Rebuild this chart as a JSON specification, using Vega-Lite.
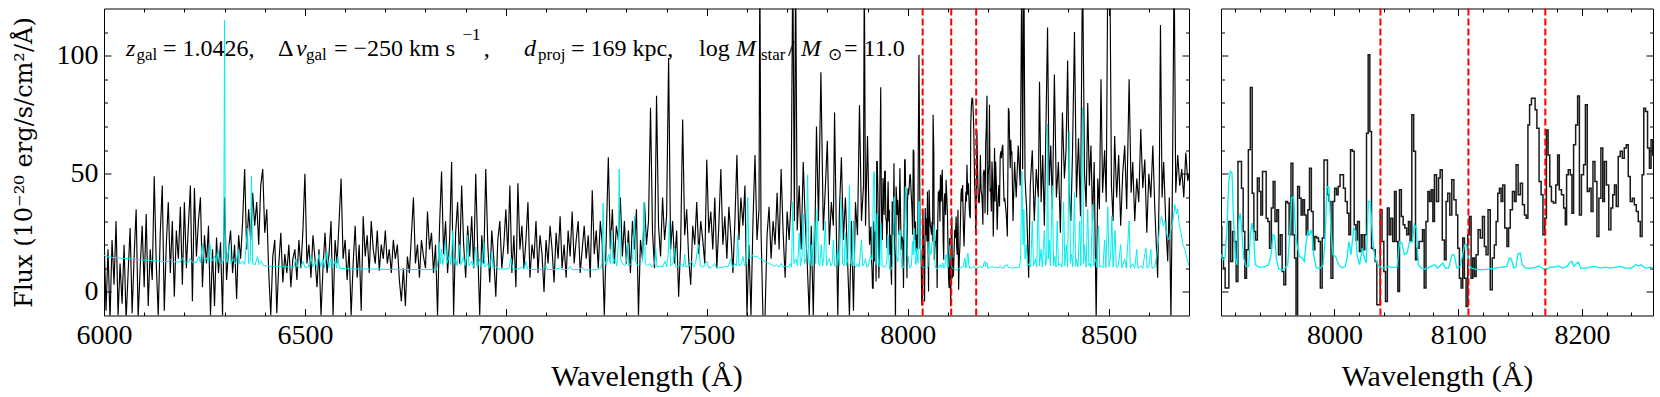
{
"$schema": "https://vega.github.io/schema/vega-lite/v6.json",
"background": "white",
"padding": {"left": 11, "top": 6.5, "right": 6, "bottom": 5},
"config": {
  "view": {"stroke": "black", "strokeWidth": 1},
  "font": "Liberation Serif",
  "axis": {"labelFont": "Liberation Serif", "titleFont": "Liberation Serif", "labelFontSize": 28, "titleFontSize": 30, "titleFontWeight": "normal", "labelColor": "black", "titleColor": "black", "tickColor": "black", "tickWidth": 1, "domain": false, "grid": false, "labelOverlap": false, "labelFlush": false, "minExtent": 0}
},
"datasets": {
"flux": [
{"w":6000,"f":25},{"w":6005,"f":-8},{"w":6010,"f":18},{"w":6015,"f":-12},{"w":6020,"f":22},{"w":6025,"f":3},{"w":6030,"f":30},{"w":6035,"f":-10},{"w":6040,"f":12},{"w":6045,"f":-5},
{"w":6050,"f":20},{"w":6055,"f":-12},{"w":6060,"f":8},{"w":6065,"f":27},{"w":6070,"f":-9},{"w":6075,"f":15},{"w":6080,"f":35},{"w":6085,"f":-11},{"w":6090,"f":10},{"w":6095,"f":28},
{"w":6100,"f":2},{"w":6105,"f":33},{"w":6110,"f":-6},{"w":6115,"f":18},{"w":6120,"f":5},{"w":6125,"f":49},{"w":6130,"f":12},{"w":6135,"f":-10},{"w":6140,"f":25},{"w":6145,"f":45},
{"w":6150,"f":-8},{"w":6155,"f":20},{"w":6160,"f":38},{"w":6165,"f":8},{"w":6170,"f":30},{"w":6175,"f":-2},{"w":6180,"f":26},{"w":6185,"f":14},{"w":6190,"f":36},{"w":6195,"f":3},
{"w":6200,"f":38},{"w":6205,"f":10},{"w":6210,"f":28},{"w":6215,"f":45},{"w":6220,"f":-4},{"w":6225,"f":44},{"w":6230,"f":15},{"w":6235,"f":30},{"w":6240,"f":40},{"w":6245,"f":2},
{"w":6250,"f":24},{"w":6255,"f":12},{"w":6260,"f":28},{"w":6265,"f":-10},{"w":6270,"f":18},{"w":6275,"f":-6},{"w":6280,"f":23},{"w":6285,"f":8},{"w":6290,"f":21},{"w":6295,"f":-10},
{"w":6300,"f":40},{"w":6305,"f":5},{"w":6310,"f":18},{"w":6315,"f":26},{"w":6320,"f":8},{"w":6325,"f":20},{"w":6330,"f":-3},{"w":6335,"f":24},{"w":6340,"f":14},{"w":6345,"f":30},
{"w":6350,"f":52},{"w":6355,"f":18},{"w":6360,"f":35},{"w":6365,"f":22},{"w":6370,"f":42},{"w":6375,"f":28},{"w":6380,"f":38},{"w":6385,"f":20},{"w":6390,"f":45},{"w":6395,"f":52},
{"w":6400,"f":25},{"w":6405,"f":35},{"w":6410,"f":8},{"w":6415,"f":-10},{"w":6420,"f":15},{"w":6425,"f":22},{"w":6430,"f":-9},{"w":6435,"f":12},{"w":6440,"f":25},{"w":6445,"f":4},
{"w":6450,"f":16},{"w":6455,"f":8},{"w":6460,"f":20},{"w":6465,"f":2},{"w":6470,"f":14},{"w":6475,"f":18},{"w":6480,"f":5},{"w":6485,"f":22},{"w":6490,"f":10},{"w":6495,"f":26},
{"w":6500,"f":50},{"w":6505,"f":12},{"w":6510,"f":20},{"w":6515,"f":6},{"w":6520,"f":24},{"w":6525,"f":14},{"w":6530,"f":2},{"w":6535,"f":18},{"w":6540,"f":-10},{"w":6545,"f":10},
{"w":6550,"f":25},{"w":6555,"f":8},{"w":6560,"f":16},{"w":6565,"f":30},{"w":6570,"f":-10},{"w":6575,"f":22},{"w":6580,"f":12},{"w":6585,"f":30},{"w":6590,"f":48},{"w":6595,"f":14},
{"w":6600,"f":22},{"w":6605,"f":5},{"w":6610,"f":18},{"w":6615,"f":-10},{"w":6620,"f":12},{"w":6625,"f":28},{"w":6630,"f":6},{"w":6635,"f":20},{"w":6640,"f":-8},{"w":6645,"f":32},
{"w":6650,"f":15},{"w":6655,"f":24},{"w":6660,"f":8},{"w":6665,"f":30},{"w":6670,"f":18},{"w":6675,"f":12},{"w":6680,"f":26},{"w":6685,"f":9},{"w":6690,"f":20},{"w":6695,"f":14},
{"w":6700,"f":26},{"w":6705,"f":12},{"w":6710,"f":18},{"w":6715,"f":8},{"w":6720,"f":22},{"w":6725,"f":14},{"w":6730,"f":20},{"w":6735,"f":5},{"w":6740,"f":-4},{"w":6745,"f":10},
{"w":6750,"f":-6},{"w":6755,"f":15},{"w":6760,"f":8},{"w":6765,"f":24},{"w":6770,"f":40},{"w":6775,"f":12},{"w":6780,"f":20},{"w":6785,"f":6},{"w":6790,"f":22},{"w":6795,"f":15},
{"w":6800,"f":10},{"w":6805,"f":34},{"w":6810,"f":18},{"w":6815,"f":25},{"w":6820,"f":8},{"w":6825,"f":20},{"w":6830,"f":-10},{"w":6835,"f":28},{"w":6840,"f":51},{"w":6845,"f":16},
{"w":6850,"f":30},{"w":6855,"f":8},{"w":6860,"f":22},{"w":6865,"f":55},{"w":6870,"f":-10},{"w":6875,"f":25},{"w":6880,"f":38},{"w":6885,"f":12},{"w":6890,"f":45},{"w":6895,"f":20},
{"w":6900,"f":6},{"w":6905,"f":28},{"w":6910,"f":15},{"w":6915,"f":32},{"w":6920,"f":10},{"w":6925,"f":50},{"w":6930,"f":18},{"w":6935,"f":-10},{"w":6940,"f":24},{"w":6945,"f":12},
{"w":6950,"f":52},{"w":6955,"f":20},{"w":6960,"f":4},{"w":6965,"f":26},{"w":6970,"f":14},{"w":6975,"f":-2},{"w":6980,"f":22},{"w":6985,"f":30},{"w":6990,"f":10},{"w":6995,"f":20},
{"w":7000,"f":35},{"w":7005,"f":16},{"w":7010,"f":45},{"w":7015,"f":8},{"w":7020,"f":24},{"w":7025,"f":2},{"w":7030,"f":46},{"w":7035,"f":18},{"w":7040,"f":28},{"w":7045,"f":10},
{"w":7050,"f":22},{"w":7055,"f":38},{"w":7060,"f":6},{"w":7065,"f":20},{"w":7070,"f":14},{"w":7075,"f":30},{"w":7080,"f":8},{"w":7085,"f":24},{"w":7090,"f":16},{"w":7095,"f":0},
{"w":7100,"f":22},{"w":7105,"f":12},{"w":7110,"f":28},{"w":7115,"f":18},{"w":7120,"f":4},{"w":7125,"f":25},{"w":7130,"f":14},{"w":7135,"f":32},{"w":7140,"f":10},{"w":7145,"f":20},
{"w":7150,"f":6},{"w":7155,"f":26},{"w":7160,"f":15},{"w":7165,"f":34},{"w":7170,"f":12},{"w":7175,"f":22},{"w":7180,"f":30},{"w":7185,"f":8},{"w":7190,"f":18},{"w":7195,"f":28},
{"w":7200,"f":14},{"w":7205,"f":24},{"w":7210,"f":6},{"w":7215,"f":43},{"w":7220,"f":16},{"w":7225,"f":26},{"w":7230,"f":10},{"w":7235,"f":30},{"w":7240,"f":20},{"w":7245,"f":-10},
{"w":7250,"f":24},{"w":7255,"f":57},{"w":7260,"f":18},{"w":7265,"f":35},{"w":7270,"f":12},{"w":7275,"f":28},{"w":7280,"f":22},{"w":7285,"f":40},{"w":7290,"f":15},{"w":7295,"f":30},
{"w":7300,"f":12},{"w":7305,"f":26},{"w":7310,"f":8},{"w":7315,"f":30},{"w":7320,"f":18},{"w":7325,"f":35},{"w":7330,"f":-10},{"w":7335,"f":22},{"w":7340,"f":14},{"w":7345,"f":38},
{"w":7350,"f":20},{"w":7355,"f":30},{"w":7360,"f":78},{"w":7365,"f":25},{"w":7370,"f":10},{"w":7375,"f":83},{"w":7380,"f":28},{"w":7385,"f":15},{"w":7390,"f":40},{"w":7395,"f":22},
{"w":7400,"f":32},{"w":7405,"f":99},{"w":7410,"f":18},{"w":7415,"f":30},{"w":7420,"f":12},{"w":7425,"f":26},{"w":7430,"f":-2},{"w":7435,"f":20},{"w":7440,"f":73},{"w":7445,"f":24},
{"w":7450,"f":35},{"w":7455,"f":14},{"w":7460,"f":3},{"w":7465,"f":28},{"w":7470,"f":20},{"w":7475,"f":38},{"w":7480,"f":16},{"w":7485,"f":30},{"w":7490,"f":22},{"w":7495,"f":12},
{"w":7500,"f":56},{"w":7505,"f":25},{"w":7510,"f":34},{"w":7515,"f":18},{"w":7520,"f":40},{"w":7525,"f":10},{"w":7530,"f":28},{"w":7535,"f":52},{"w":7540,"f":20},{"w":7545,"f":32},
{"w":7550,"f":14},{"w":7555,"f":36},{"w":7560,"f":24},{"w":7565,"f":8},{"w":7570,"f":30},{"w":7575,"f":58},{"w":7580,"f":22},{"w":7585,"f":40},{"w":7590,"f":28},{"w":7595,"f":45},
{"w":7600,"f":-10},{"w":7605,"f":20},{"w":7610,"f":-10},{"w":7615,"f":30},{"w":7620,"f":58},{"w":7625,"f":22},{"w":7630,"f":35},{"w":7632,"f":140},{"w":7635,"f":26},{"w":7640,"f":-12},
{"w":7645,"f":-10},{"w":7650,"f":24},{"w":7655,"f":36},{"w":7660,"f":14},{"w":7665,"f":30},{"w":7670,"f":20},{"w":7675,"f":42},{"w":7680,"f":18},{"w":7685,"f":52},{"w":7690,"f":25},
{"w":7695,"f":6},{"w":7700,"f":34},{"w":7705,"f":22},{"w":7710,"f":40},{"w":7714,"f":140},{"w":7718,"f":30},{"w":7721,"f":140},{"w":7725,"f":26},{"w":7730,"f":45},{"w":7735,"f":18},
{"w":7740,"f":55},{"w":7745,"f":30},{"w":7750,"f":12},{"w":7755,"f":-10},{"w":7760,"f":28},{"w":7765,"f":-10},{"w":7770,"f":35},{"w":7773,"f":70},{"w":7778,"f":30},{"w":7784,"f":93},
{"w":7790,"f":26},{"w":7795,"f":44},{"w":7800,"f":64},{"w":7805,"f":20},{"w":7810,"f":38},{"w":7815,"f":28},{"w":7818,"f":76},{"w":7822,"f":30},{"w":7826,"f":-10},{"w":7830,"f":34},
{"w":7835,"f":57},{"w":7840,"f":22},{"w":7845,"f":40},{"w":7850,"f":15},{"w":7855,"f":-10},{"w":7860,"f":30},{"w":7865,"f":-8},{"w":7870,"f":38},{"w":7875,"f":24},{"w":7880,"f":79},
{"w":7885,"f":30},{"w":7890,"f":45},{"w":7892,"f":140},{"w":7895,"f":28},{"w":7900,"f":66},{"w":7905,"f":20},
{"w":7908.4,"f":27.7},{"w":7909.7,"f":14.3},{"w":7911.1,"f":10.1},{"w":7912.4,"f":1.6},{"w":7914.1,"f":1.6},{"w":7915.4,"f":29.8},{"w":7917.0,"f":12.9},{"w":7918.6,"f":25.6},{"w":7920.0,"f":21.3},{"w":7921.3,"f":4.4},
{"w":7922.9,"f":55.2},{"w":7924.3,"f":55.2},{"w":7925.6,"f":43.9},{"w":7927.0,"f":25.6},{"w":7928.3,"f":5.8},{"w":7929.7,"f":17.8},{"w":7931.3,"f":60.2},{"w":7932.9,"f":86.6},{"w":7934.3,"f":41.8},{"w":7935.6,"f":25.6},
{"w":7937.0,"f":22.0},{"w":7938.6,"f":48.2},{"w":7939.9,"f":42.5},{"w":7941.3,"f":32.6},{"w":7942.6,"f":51.0},{"w":7944.2,"f":51.0},{"w":7945.6,"f":31.2},{"w":7946.9,"f":29.8},{"w":7948.3,"f":18.5},{"w":7949.9,"f":35.5},
{"w":7951.2,"f":46.7},{"w":7952.8,"f":29.8},{"w":7954.2,"f":34.8},{"w":7955.5,"f":15.7},{"w":7957.1,"f":24.2},{"w":7958.5,"f":8.6},{"w":7959.8,"f":3.0},{"w":7961.5,"f":38.3},{"w":7962.8,"f":37.6},{"w":7964.1,"f":24.2},
{"w":7965.8,"f":54.5},{"w":7967.1,"f":24.2},{"w":7968.5,"f":14.3},{"w":7969.5,"f":-14},{"w":7971.1,"f":44.6},{"w":7972.5,"f":39.7},{"w":7973.8,"f":32.6},{"w":7975.2,"f":39.0},{"w":7976.5,"f":32.6},{"w":7977.9,"f":24.2},
{"w":7979.2,"f":34.8},{"w":7980.6,"f":52.4},{"w":7982.2,"f":34.0},{"w":7983.5,"f":17.8},{"w":7984.9,"f":23.5},{"w":7986.5,"f":22.8},{"w":7987.8,"f":21.3},{"w":7989.5,"f":1.6},{"w":7990.8,"f":22.8},{"w":7992.4,"f":55.9},
{"w":7993.7,"f":55.9},{"w":7995.1,"f":41.1},{"w":7996.4,"f":38.3},{"w":7998.1,"f":5.8},{"w":7999.4,"f":38.3},{"w":8001.0,"f":43.9},{"w":8002.4,"f":41.1},{"w":8003.7,"f":44.6},{"w":8005.4,"f":49.6},{"w":8006.7,"f":49.6},
{"w":8008.0,"f":43.9},{"w":8009.7,"f":38.3},{"w":8011.0,"f":33.3},{"w":8012.4,"f":24.2},{"w":8013.7,"f":60.2},{"w":8015.3,"f":59.5},{"w":8016.7,"f":28.4},{"w":8018.0,"f":22.0},{"w":8019.4,"f":29.8},{"w":8021.0,"f":17.1},
{"w":8022.3,"f":24.2},{"w":8023.7,"f":17.8},{"w":8025.3,"f":24.2},{"w":8026.6,"f":67.2},{"w":8028.0,"f":100.4},{"w":8029.3,"f":67.9},{"w":8030.7,"f":18.5},{"w":8032.3,"f":17.8},{"w":8033.6,"f":12.9},{"w":8035.0,"f":-5.5},
{"w":8036.3,"f":-5.5},{"w":8037.7,"f":34.8},{"w":8039.3,"f":21.3},{"w":8040.6,"f":8.6},{"w":8042.0,"f":-4.1},{"w":8043.6,"f":35.5},{"w":8044.9,"f":24.2},{"w":8046.3,"f":31.2},{"w":8047.9,"f":21.3},{"w":8049.2,"f":42.5},
{"w":8050.6,"f":21.3},{"w":8051.9,"f":0.2},{"w":8053.3,"f":43.2},{"w":8054.9,"f":31.9},{"w":8056.2,"f":28.4},{"w":8057.6,"f":27.0},{"w":8059.2,"f":24.2},{"w":8060.5,"f":29.8},{"w":8061.9,"f":21.3},{"w":8063.2,"f":75.0},
{"w":8064.9,"f":59.5},{"w":8066.2,"f":13.6},{"w":8067.6,"f":18.5},{"w":8069.2,"f":21.3},{"w":8070.5,"f":21.3},{"w":8071.9,"f":26.3},{"w":8073.2,"f":1.6},{"w":8074.8,"f":29.8},{"w":8076.2,"f":42.5},{"w":8077.5,"f":38.3},
{"w":8078.9,"f":43.2},{"w":8080.2,"f":29.8},{"w":8081.5,"f":49.6},{"w":8083.5,"f":38.3},{"w":8084.8,"f":48.2},{"w":8086.1,"f":51.7},{"w":8088.2,"f":22.0},{"w":8089.6,"f":13.6},{"w":8090.9,"f":38.3},{"w":8092.3,"f":41.8},
{"w":8094.2,"f":32.6},{"w":8095.5,"f":47.5},{"w":8097.6,"f":39.0},{"w":8099.0,"f":32.6},{"w":8100.3,"f":18.5},{"w":8101.7,"f":5.8},{"w":8103.0,"f":1.6},{"w":8104.4,"f":22.8},{"w":8105.7,"f":5.8},{"w":8107.1,"f":-6.2},
{"w":8108.4,"f":24.2},{"w":8109.8,"f":31.9},{"w":8111.1,"f":5.8},{"w":8112.5,"f":14.3},{"w":8113.8,"f":6.5},{"w":8115.2,"f":15.7},{"w":8117.0,"f":26.3},{"w":8118.7,"f":22.8},{"w":8120.5,"f":31.9},{"w":8121.9,"f":19.2},
{"w":8123.2,"f":15.7},{"w":8125.1,"f":34.8},{"w":8126.7,"f":0.9},{"w":8128.4,"f":14.3},{"w":8130.0,"f":19.9},{"w":8131.3,"f":29.8},{"w":8132.7,"f":41.8},{"w":8134.0,"f":43.9},{"w":8135.4,"f":38.3},{"w":8136.7,"f":45.3},
{"w":8138.6,"f":27.0},{"w":8140.2,"f":19.2},{"w":8141.3,"f":27.0},{"w":8142.9,"f":34.8},{"w":8144.8,"f":42.5},{"w":8146.1,"f":38.3},{"w":8147.5,"f":53.8},{"w":8149.4,"f":41.1},{"w":8151.0,"f":46.0},{"w":8152.9,"f":36.9},
{"w":8154.2,"f":32.6},{"w":8155.8,"f":31.2},{"w":8156.9,"f":70.7},{"w":8158.5,"f":79.2},{"w":8159.9,"f":82.0},{"w":8161.5,"f":82.0},{"w":8162.8,"f":77.1},{"w":8164.4,"f":69.3},{"w":8166.3,"f":46.7},{"w":8167.7,"f":41.1},
{"w":8169.3,"f":24.2},{"w":8170.6,"f":31.2},{"w":8172.0,"f":68.6},{"w":8173.3,"f":58.0},{"w":8174.7,"f":44.6},{"w":8176.0,"f":38.3},{"w":8177.9,"f":37.6},{"w":8179.8,"f":45.3},{"w":8180.9,"f":58.0},{"w":8182.5,"f":43.2},
{"w":8184.4,"f":41.1},{"w":8186.0,"f":35.5},{"w":8187.1,"f":28.4},{"w":8188.1,"f":49.6},{"w":8189.8,"f":51.7},{"w":8191.4,"f":49.6},{"w":8192.4,"f":33.3},{"w":8194.1,"f":62.3},{"w":8195.7,"f":70.7},{"w":8197.3,"f":83.0},
{"w":8198.6,"f":32.6},{"w":8200.5,"f":49.6},{"w":8202.1,"f":53.8},{"w":8203.5,"f":79.2},{"w":8205.1,"f":42.5},{"w":8206.7,"f":43.9},{"w":8208.1,"f":34.0},{"w":8209.7,"f":55.2},{"w":8211.3,"f":46.7},{"w":8212.9,"f":23.5},
{"w":8214.5,"f":39.7},{"w":8216.1,"f":60.9},{"w":8217.5,"f":38.3},{"w":8218.8,"f":55.2},{"w":8220.7,"f":45.3},{"w":8222.6,"f":26.3},{"w":8224.2,"f":35.5},{"w":8225.6,"f":41.1},{"w":8226.9,"f":45.3},{"w":8228.5,"f":36.2},
{"w":8230.1,"f":57.3},{"w":8231.8,"f":59.5},{"w":8233.4,"f":56.6},{"w":8235.0,"f":60.9},{"w":8236.6,"f":62.3},{"w":8238.2,"f":48.9},{"w":8239.8,"f":38.3},{"w":8241.5,"f":39.7},{"w":8243.1,"f":36.9},{"w":8244.7,"f":34.0},
{"w":8246.3,"f":29.8},{"w":8247.9,"f":23.5},{"w":8249.3,"f":49.6},{"w":8250.6,"f":77.8},{"w":8252.2,"f":76.4},{"w":8253.8,"f":60.9},{"w":8255.2,"f":52.4},{"w":8256.5,"f":64.4},{"w":8257.9,"f":58.0},{"w":8259.2,"f":59.5},
{"w":8262,"f":30},{"w":8266,"f":55},{"w":8270,"f":40},{"w":8275,"f":62},{"w":8280,"f":45},{"w":8284,"f":140},{"w":8286,"f":52},{"w":8289,"f":140},{"w":8292,"f":48},{"w":8296,"f":35},
{"w":8301,"f":6},{"w":8305,"f":45},{"w":8310,"f":60},{"w":8315,"f":30},{"w":8320,"f":52},{"w":8325,"f":40},{"w":8328,"f":89},{"w":8332,"f":38},{"w":8336,"f":58},{"w":8340,"f":28},
{"w":8344,"f":70},{"w":8348,"f":112},{"w":8352,"f":45},{"w":8356,"f":62},{"w":8360,"f":35},{"w":8365,"f":92},{"w":8370,"f":40},{"w":8375,"f":55},{"w":8380,"f":25},{"w":8385,"f":76},
{"w":8390,"f":48},{"w":8394,"f":60},{"w":8398,"f":98},{"w":8402,"f":42},{"w":8406,"f":30},{"w":8410,"f":58},{"w":8415,"f":110},{"w":8420,"f":40},{"w":8425,"f":65},{"w":8430,"f":32},
{"w":8435,"f":140},{"w":8440,"f":50},{"w":8444,"f":36},{"w":8448,"f":80},{"w":8452,"f":45},{"w":8456,"f":62},{"w":8460,"f":30},{"w":8464,"f":55},{"w":8469,"f":-12},{"w":8473,"f":48},
{"w":8477,"f":35},{"w":8481,"f":90},{"w":8485,"f":42},{"w":8490,"f":60},{"w":8494,"f":38},{"w":8498,"f":140},{"w":8503,"f":140},{"w":8507,"f":45},{"w":8511,"f":30},{"w":8515,"f":66},
{"w":8520,"f":40},{"w":8525,"f":58},{"w":8530,"f":28},{"w":8535,"f":50},{"w":8540,"f":62},{"w":8545,"f":35},{"w":8551,"f":90},{"w":8556,"f":42},{"w":8560,"f":55},{"w":8565,"f":30},
{"w":8570,"f":48},{"w":8575,"f":38},{"w":8580,"f":69},{"w":8585,"f":44},{"w":8590,"f":56},{"w":8595,"f":25},{"w":8600,"f":50},{"w":8605,"f":40},{"w":8610,"f":62},{"w":8615,"f":35},
{"w":8622,"f":6},{"w":8626,"f":45},{"w":8629,"f":113},{"w":8633,"f":40},{"w":8637,"f":55},{"w":8642,"f":30},{"w":8647,"f":13},{"w":8651,"f":40},{"w":8655,"f":-12},{"w":8659,"f":50},
{"w":8663,"f":140},{"w":8667,"f":42},{"w":8672,"f":58},{"w":8677,"f":45},{"w":8682,"f":52},{"w":8687,"f":40},{"w":8692,"f":59},{"w":8697,"f":47},{"w":8700,"f":50}
],
"err": [
{"w":6000,"e":15.5},{"w":6010,"e":14.8},{"w":6020,"e":14.6},{"w":6030,"e":14.5},{"w":6040,"e":14.3},{"w":6050,"e":14.2},{"w":6060,"e":14.0},{"w":6070,"e":13.9},{"w":6080,"e":13.7},{"w":6090,"e":13.6},
{"w":6100,"e":13.5},{"w":6110,"e":13.4},{"w":6120,"e":13.2},{"w":6130,"e":13.2},{"w":6140,"e":13.0},{"w":6150,"e":12.9},{"w":6160,"e":12.8},{"w":6165,"e":13.8},{"w":6170,"e":12.8},{"w":6180,"e":12.7},
{"w":6190,"e":12.7},{"w":6196,"e":14.5},{"w":6200,"e":12.6},{"w":6210,"e":12.5},{"w":6214,"e":14.2},{"w":6220,"e":12.5},{"w":6230,"e":12.4},{"w":6236,"e":15},{"w":6240,"e":12.4},{"w":6245,"e":20.5},
{"w":6250,"e":12.4},{"w":6256,"e":14.5},{"w":6260,"e":12.3},{"w":6264,"e":20},{"w":6268,"e":13},{"w":6275,"e":15},{"w":6280,"e":12.2},{"w":6284,"e":18},{"w":6288,"e":12.2},{"w":6295,"e":12.1},
{"w":6298,"e":14},{"w":6300,"e":115},{"w":6302,"e":16},{"w":6306,"e":12.5},{"w":6312,"e":20},{"w":6316,"e":12},{"w":6322,"e":14},{"w":6328,"e":11.8},{"w":6334,"e":18},{"w":6338,"e":11.8},
{"w":6345,"e":13},{"w":6350,"e":11.6},{"w":6357,"e":27},{"w":6360,"e":12},{"w":6364,"e":13},{"w":6367,"e":49},{"w":6370,"e":12},{"w":6376,"e":11.5},{"w":6382,"e":15},{"w":6386,"e":11.5},
{"w":6391,"e":13},{"w":6396,"e":11.2},{"w":6405,"e":11},{"w":6420,"e":10.8},{"w":6440,"e":10.7},{"w":6460,"e":10.6},{"w":6472,"e":10.5},{"w":6478,"e":14},{"w":6482,"e":10.5},{"w":6490,"e":10.5},
{"w":6495,"e":13},{"w":6500,"e":10.4},{"w":6508,"e":10.4},{"w":6515,"e":15},{"w":6519,"e":10.5},{"w":6525,"e":13},{"w":6529,"e":10.4},{"w":6535,"e":16},{"w":6539,"e":10.5},{"w":6545,"e":14},
{"w":6549,"e":10.3},{"w":6555,"e":17},{"w":6559,"e":10.3},{"w":6565,"e":14},{"w":6569,"e":10.2},{"w":6575,"e":13},{"w":6579,"e":10.2},{"w":6582,"e":15},{"w":6586,"e":10},{"w":6600,"e":9.8},
{"w":6620,"e":9.7},{"w":6640,"e":9.8},{"w":6660,"e":9.6},{"w":6680,"e":9.7},{"w":6700,"e":9.5},{"w":6720,"e":9.6},{"w":6740,"e":9.5},{"w":6760,"e":9.5},{"w":6780,"e":9.4},{"w":6800,"e":9.5},
{"w":6820,"e":9.4},{"w":6828,"e":9.6},{"w":6832,"e":14},{"w":6834,"e":21},{"w":6837,"e":12},{"w":6840,"e":18},{"w":6843,"e":11.5},{"w":6847,"e":15},{"w":6850,"e":22},{"w":6853,"e":12},
{"w":6857,"e":14},{"w":6860,"e":16},{"w":6863,"e":11.5},{"w":6866,"e":19},{"w":6868,"e":26},{"w":6871,"e":12},{"w":6875,"e":14},{"w":6879,"e":11},{"w":6882,"e":16},{"w":6885,"e":20},
{"w":6888,"e":11.5},{"w":6892,"e":13},{"w":6895,"e":15},{"w":6898,"e":11},{"w":6902,"e":14},{"w":6905,"e":24},{"w":6908,"e":11},{"w":6912,"e":12},{"w":6915,"e":13},{"w":6919,"e":10.5},
{"w":6922,"e":14},{"w":6925,"e":19},{"w":6928,"e":10.5},{"w":6932,"e":12},{"w":6935,"e":14},{"w":6939,"e":10.5},{"w":6942,"e":13},{"w":6945,"e":21},{"w":6948,"e":10.5},{"w":6952,"e":11},
{"w":6955,"e":12},{"w":6959,"e":10},{"w":6962,"e":12},{"w":6965,"e":17},{"w":6968,"e":10},{"w":6972,"e":10.5},{"w":6975,"e":11},{"w":6980,"e":9.8},{"w":6990,"e":9.6},{"w":7000,"e":9.7},
{"w":7008,"e":10},{"w":7013,"e":14.3},{"w":7017,"e":9.8},{"w":7030,"e":9.6},{"w":7040,"e":10.5},{"w":7046,"e":9.6},{"w":7050,"e":12.9},{"w":7054,"e":9.6},{"w":7070,"e":9.5},{"w":7090,"e":9.6},
{"w":7100,"e":11},{"w":7104,"e":9.5},{"w":7120,"e":9.4},{"w":7135,"e":10.2},{"w":7140,"e":9.4},{"w":7155,"e":9.5},{"w":7160,"e":10.8},{"w":7165,"e":9.4},{"w":7180,"e":9.4},{"w":7190,"e":10.5},
{"w":7195,"e":9.3},{"w":7210,"e":9.4},{"w":7225,"e":9.4},{"w":7236,"e":10},{"w":7239,"e":12},{"w":7242,"e":37.6},{"w":7245,"e":14},{"w":7250,"e":11},{"w":7256,"e":16},{"w":7260,"e":12},
{"w":7263,"e":26},{"w":7267,"e":12},{"w":7272,"e":14},{"w":7276,"e":11},{"w":7280,"e":20},{"w":7282,"e":52},{"w":7285,"e":14},{"w":7290,"e":12},{"w":7296,"e":11},{"w":7300,"e":13},
{"w":7303,"e":21},{"w":7306,"e":11},{"w":7312,"e":12},{"w":7316,"e":15},{"w":7320,"e":32},{"w":7323,"e":13},{"w":7328,"e":11},{"w":7334,"e":12},{"w":7340,"e":13},{"w":7344,"e":38},
{"w":7347,"e":12},{"w":7352,"e":11},{"w":7358,"e":12},{"w":7364,"e":10.5},{"w":7370,"e":12},{"w":7373,"e":18.5},{"w":7376,"e":10.5},{"w":7384,"e":11},{"w":7390,"e":10.5},{"w":7396,"e":13},
{"w":7400,"e":10.5},{"w":7404,"e":16},{"w":7407,"e":30},{"w":7410,"e":11},{"w":7416,"e":12},{"w":7420,"e":18.5},{"w":7423,"e":10.5},{"w":7430,"e":11},{"w":7436,"e":12},{"w":7442,"e":10.5},
{"w":7445,"e":16},{"w":7448,"e":10.5},{"w":7456,"e":11},{"w":7463,"e":13},{"w":7467,"e":10.5},{"w":7472,"e":12},{"w":7476,"e":17},{"w":7480,"e":20},{"w":7484,"e":11},{"w":7492,"e":10.5},
{"w":7500,"e":13},{"w":7504,"e":10.2},{"w":7512,"e":10.5},{"w":7520,"e":12},{"w":7524,"e":10.2},{"w":7532,"e":10.2},{"w":7540,"e":10.5},{"w":7548,"e":11},{"w":7552,"e":10.3},{"w":7560,"e":14},
{"w":7564,"e":10.3},{"w":7570,"e":12},{"w":7574,"e":11},{"w":7577,"e":24},{"w":7580,"e":11},{"w":7586,"e":12},{"w":7590,"e":15},{"w":7594,"e":11},{"w":7598,"e":12},{"w":7602,"e":40},
{"w":7605,"e":14},{"w":7610,"e":14.5},{"w":7614,"e":15.5},{"w":7620,"e":14.8},{"w":7626,"e":15},{"w":7632,"e":14},{"w":7638,"e":13.5},{"w":7644,"e":13},{"w":7650,"e":12.5},{"w":7656,"e":12},
{"w":7662,"e":11.5},{"w":7668,"e":10.8},{"w":7674,"e":11.5},{"w":7680,"e":10.5},{"w":7686,"e":12},{"w":7690,"e":10.4},{"w":7696,"e":11},{"w":7702,"e":10.4},{"w":7708,"e":12},{"w":7711,"e":10.5},
{"w":7714,"e":38},{"w":7717,"e":12},{"w":7722,"e":14},{"w":7726,"e":11},{"w":7730,"e":25},{"w":7733,"e":11},{"w":7737,"e":15},{"w":7740,"e":33},{"w":7743,"e":12},{"w":7747,"e":14},
{"w":7751,"e":49.6},{"w":7754,"e":12},{"w":7757,"e":11},{"w":7760,"e":20},{"w":7763,"e":11},{"w":7768,"e":30},{"w":7771,"e":12},{"w":7775,"e":35},{"w":7778,"e":12},{"w":7781,"e":11},
{"w":7785,"e":20},{"w":7788,"e":11},{"w":7791,"e":14},{"w":7795,"e":30},{"w":7798,"e":11},{"w":7802,"e":13},{"w":7805,"e":14},{"w":7809,"e":11},{"w":7812,"e":12},{"w":7815,"e":22},
{"w":7818,"e":11},{"w":7822,"e":11},{"w":7826,"e":18},{"w":7830,"e":11},{"w":7835,"e":40},{"w":7838,"e":12},{"w":7842,"e":11},{"w":7845,"e":25},{"w":7848,"e":11},{"w":7851,"e":14},
{"w":7855,"e":45},{"w":7858,"e":12},{"w":7862,"e":11},{"w":7865,"e":30},{"w":7868,"e":11},{"w":7871,"e":10.5},{"w":7875,"e":12},{"w":7879,"e":10.5},{"w":7885,"e":22},{"w":7888,"e":11},
{"w":7892,"e":12},{"w":7895,"e":14},{"w":7898,"e":10.5},{"w":7902,"e":11},{"w":7905,"e":13},
{"w":7908.4,"e":15.7},{"w":7910.0,"e":13.6},{"w":7911.6,"e":14.3},{"w":7913.2,"e":27.0},{"w":7914.6,"e":46.0},{"w":7915.9,"e":51.0},{"w":7917.3,"e":50.3},{"w":7918.6,"e":29.8},{"w":7920.0,"e":14.3},{"w":7921.3,"e":11.5},
{"w":7922.7,"e":29.8},{"w":7924.0,"e":33.3},{"w":7925.4,"e":24.2},{"w":7926.7,"e":14.3},{"w":7928.6,"e":10.8},{"w":7930.8,"e":10.8},{"w":7932.1,"e":24.2},{"w":7933.4,"e":29.1},{"w":7934.8,"e":24.2},{"w":7936.1,"e":11.5},
{"w":7938.8,"e":10.5},{"w":7942.9,"e":10.5},{"w":7946.9,"e":11.5},{"w":7948.8,"e":15.7},{"w":7950.4,"e":24.2},{"w":7951.8,"e":23.5},{"w":7953.1,"e":14.3},{"w":7955.0,"e":9.6},{"w":7957.7,"e":9.3},{"w":7960.4,"e":10.1},
{"w":7962.3,"e":11.5},{"w":7963.9,"e":24.2},{"w":7965.5,"e":39.7},{"w":7967.1,"e":40.4},{"w":7968.7,"e":24.2},{"w":7970.3,"e":18.5},{"w":7971.9,"e":15.0},{"w":7974.1,"e":14.3},{"w":7975.7,"e":12.9},{"w":7977.3,"e":21.3},
{"w":7978.7,"e":25.6},{"w":7980.0,"e":24.2},{"w":7981.6,"e":26.3},{"w":7983.3,"e":15.7},{"w":7985.4,"e":10.1},{"w":7988.6,"e":10.1},{"w":7990.8,"e":11.2},{"w":7992.4,"e":21.3},{"w":7994.0,"e":44.6},{"w":7995.6,"e":44.3},
{"w":7997.3,"e":25.6},{"w":7998.9,"e":15.7},{"w":8001.0,"e":15.0},{"w":8003.5,"e":11.5},{"w":8006.1,"e":10.1},{"w":8008.8,"e":10.8},{"w":8010.2,"e":14.3},{"w":8011.8,"e":21.3},{"w":8013.4,"e":15.7},{"w":8015.6,"e":27.0},
{"w":8017.2,"e":25.6},{"w":8018.3,"e":15.7},{"w":8020.4,"e":11.5},{"w":8022.6,"e":18.5},{"w":8024.2,"e":14.3},{"w":8025.8,"e":12.2},{"w":8027.4,"e":38.3},{"w":8029.0,"e":38.3},{"w":8030.7,"e":24.2},{"w":8032.3,"e":15.7},
{"w":8033.9,"e":12.9},{"w":8036.0,"e":10.8},{"w":8038.5,"e":10.1},{"w":8041.2,"e":10.4},{"w":8043.9,"e":10.8},{"w":8046.5,"e":10.4},{"w":8050.6,"e":10.5},{"w":8052.7,"e":21.3},{"w":8054.6,"e":20.6},{"w":8056.5,"e":15.7},
{"w":8058.7,"e":16.4},{"w":8060.8,"e":21.3},{"w":8063.0,"e":21.3},{"w":8064.6,"e":28.4},{"w":8066.2,"e":27.0},{"w":8067.8,"e":11.5},{"w":8070.0,"e":10.1},{"w":8072.6,"e":9.6},{"w":8075.3,"e":10.1},{"w":8078.0,"e":10.8},
{"w":8080.8,"e":11.5},{"w":8083.5,"e":10.1},{"w":8086.1,"e":11.5},{"w":8087.5,"e":12.2},{"w":8089.6,"e":10.1},{"w":8092.3,"e":10.1},{"w":8095.0,"e":15.7},{"w":8096.8,"e":15.7},{"w":8099.0,"e":10.1},{"w":8101.7,"e":10.8},
{"w":8103.6,"e":15.7},{"w":8105.2,"e":19.9},{"w":8106.8,"e":20.2},{"w":8108.4,"e":11.5},{"w":8110.6,"e":10.1},{"w":8113.8,"e":9.6},{"w":8119.2,"e":9.3},{"w":8124.6,"e":9.6},{"w":8130.0,"e":10.1},{"w":8135.4,"e":10.5},
{"w":8139.4,"e":10.8},{"w":8141.3,"e":14.3},{"w":8142.9,"e":14.0},{"w":8144.8,"e":10.1},{"w":8146.7,"e":10.4},{"w":8148.3,"e":16.1},{"w":8150.2,"e":16.4},{"w":8151.8,"e":11.5},{"w":8154.2,"e":10.1},{"w":8158.2,"e":10.1},
{"w":8162.3,"e":10.4},{"w":8165.0,"e":11.0},{"w":8167.7,"e":10.1},{"w":8170.4,"e":9.3},{"w":8174.4,"e":10.5},{"w":8178.4,"e":10.5},{"w":8181.1,"e":11.0},{"w":8184.4,"e":10.1},{"w":8187.9,"e":10.8},{"w":8190.6,"e":12.6},
{"w":8191.9,"e":12.9},{"w":8193.5,"e":10.8},{"w":8195.9,"e":12.2},{"w":8197.3,"e":12.5},{"w":8198.9,"e":10.1},{"w":8202.7,"e":10.1},{"w":8206.7,"e":10.5},{"w":8210.8,"e":10.8},{"w":8214.8,"e":10.1},{"w":8218.8,"e":10.5},
{"w":8222.9,"e":10.1},{"w":8226.9,"e":10.4},{"w":8231.0,"e":10.8},{"w":8235.0,"e":10.1},{"w":8239.8,"e":10.1},{"w":8243.6,"e":11.5},{"w":8245.8,"e":11.0},{"w":8247.9,"e":11.5},{"w":8250.1,"e":10.5},{"w":8252.5,"e":10.1},
{"w":8255.2,"e":10.5},{"w":8257.9,"e":10.1},{"w":8259.2,"e":10.1},
{"w":8265,"e":10.2},{"w":8272,"e":10.4},{"w":8278,"e":10.5},{"w":8281,"e":14},{"w":8284,"e":51},{"w":8287,"e":20},{"w":8289,"e":35},{"w":8292,"e":14},{"w":8295,"e":20},{"w":8298,"e":11},
{"w":8302,"e":12},{"w":8306,"e":10.5},{"w":8310,"e":30},{"w":8313,"e":11},{"w":8318,"e":14},{"w":8321,"e":10.5},{"w":8325,"e":40},{"w":8328,"e":11},{"w":8332,"e":18},{"w":8335,"e":10.5},
{"w":8340,"e":26},{"w":8343,"e":11},{"w":8346,"e":14},{"w":8348,"e":71},{"w":8350,"e":14},{"w":8352,"e":22},{"w":8355,"e":11},{"w":8360,"e":45},{"w":8363,"e":11},{"w":8366,"e":15},
{"w":8369,"e":10.5},{"w":8372,"e":30},{"w":8375,"e":11},{"w":8380,"e":12},{"w":8384,"e":10.5},{"w":8388,"e":38},{"w":8391,"e":11},{"w":8395,"e":20},{"w":8398,"e":10.5},{"w":8402,"e":68},
{"w":8405,"e":12},{"w":8408,"e":16},{"w":8411,"e":10.5},{"w":8415,"e":42},{"w":8418,"e":11},{"w":8420,"e":14},{"w":8424,"e":10.5},{"w":8428,"e":30},{"w":8431,"e":11},{"w":8435,"e":78},
{"w":8438,"e":12},{"w":8440,"e":20},{"w":8444,"e":10.5},{"w":8448,"e":35},{"w":8451,"e":11},{"w":8453,"e":12},{"w":8456,"e":10.3},{"w":8460,"e":37},{"w":8463,"e":11},{"w":8468,"e":14},
{"w":8471,"e":10.3},{"w":8475,"e":28},{"w":8478,"e":10.5},{"w":8482,"e":11},{"w":8486,"e":10.2},{"w":8490,"e":22},{"w":8493,"e":10.3},{"w":8498,"e":36},{"w":8501,"e":10.5},{"w":8505,"e":15},
{"w":8508,"e":32},{"w":8511,"e":10.5},{"w":8516,"e":26},{"w":8519,"e":10.2},{"w":8524,"e":11},{"w":8530,"e":20},{"w":8533,"e":10.2},{"w":8540,"e":14},{"w":8544,"e":10},{"w":8551,"e":30},
{"w":8554,"e":10.2},{"w":8560,"e":12},{"w":8565,"e":10},{"w":8570,"e":18},{"w":8573,"e":10},{"w":8580,"e":11},{"w":8585,"e":10},{"w":8590,"e":16},{"w":8593,"e":18.5},{"w":8596,"e":10},
{"w":8600,"e":10.5},{"w":8605,"e":18},{"w":8608,"e":10},{"w":8615,"e":10.5},{"w":8620,"e":16},{"w":8624,"e":22},{"w":8628,"e":30},{"w":8632,"e":32},{"w":8636,"e":28},{"w":8640,"e":30},
{"w":8645,"e":24},{"w":8650,"e":22},{"w":8655,"e":26},{"w":8660,"e":30},{"w":8665,"e":37},{"w":8669,"e":33},{"w":8672,"e":35},{"w":8676,"e":28},{"w":8680,"e":25},{"w":8685,"e":20},
{"w":8690,"e":18},{"w":8695,"e":14},{"w":8700,"e":11}
],
"lines": [{"w":8037.2},{"w":8108.3},{"w":8170.4}]
},
"resolve": {"scale": {"x": "independent", "y": "independent"}},
"spacing": 30,
"hconcat": [
{
 "width": 1085, "height": 307,
 "layer": [
  {"data": {"name": "flux"},
   "mark": {"type": "line", "color": "black", "strokeWidth": 1.15, "clip": true},
   "encoding": {
    "x": {"field": "w", "type": "quantitative", "scale": {"domain": [6000, 8700], "nice": false, "zero": false},
      "axis": {"orient": "bottom", "title": "Wavelength (Å)", "values": [6000,6100,6200,6300,6400,6500,6600,6700,6800,6900,7000,7100,7200,7300,7400,7500,7600,7700,7800,7900,8000,8100,8200,8300,8400,8500,8600], "format": "d", "labelExpr": "datum.value % 500 === 0 ? datum.label : ''", "tickSize": {"condition": {"test": "datum.value % 500 === 0", "value": -7}, "value": -3.5}, "labelPadding": 13, "titlePadding": 8}},
    "y": {"field": "f", "type": "quantitative", "scale": {"domain": [-10, 120], "nice": false, "zero": false},
      "axis": {"orient": "left", "title": "Flux (10⁻²⁰ erg/s/cm²/Å)", "titleFont": "DejaVu Serif", "titleFontSize": 24, "values": [0,10,20,30,40,50,60,70,80,90,100,110], "format": "d", "labelExpr": "datum.value % 50 === 0 ? datum.label : ''", "tickSize": {"condition": {"test": "datum.value % 50 === 0", "value": -7}, "value": -3.5}, "labelPadding": 13, "titlePadding": 20}}
   }},
  {"data": {"name": "err"},
   "mark": {"type": "line", "color": "#00eeee", "strokeWidth": 1, "clip": true},
   "encoding": {
    "x": {"field": "w", "type": "quantitative", "axis": {"orient": "top", "labels": false, "title": null, "values": [6100,6200,6300,6400,6500,6600,6700,6800,6900,7000,7100,7200,7300,7400,7500,7600,7700,7800,7900,8000,8100,8200,8300,8400,8500,8600], "tickSize": {"condition": {"test": "datum.value % 500 === 0", "value": -7}, "value": -3.5}}},
    "y": {"field": "e", "type": "quantitative", "axis": {"orient": "right", "labels": false, "title": null, "values": [0,10,20,30,40,50,60,70,80,90,100,110], "tickSize": {"condition": {"test": "datum.value % 50 === 0", "value": -7}, "value": -3.5}}}
   }},
  {"data": {"name": "lines"},
   "mark": {"type": "rule", "color": "#ff0000", "strokeWidth": 2, "strokeDash": [7, 3]},
   "encoding": {"x": {"field": "w", "type": "quantitative", "axis": null}}},
  {"data": {"values": [{}]}, "mark": {"type": "text", "text": "z", "fontSize": 24, "fontStyle": "italic", "align": "left", "baseline": "alphabetic", "color": "black"}, "encoding": {"x": {"datum": 6054.7, "type": "quantitative", "axis": null}, "y": {"datum": 99.7, "type": "quantitative", "axis": null}}},
  {"data": {"values": [{}]}, "mark": {"type": "text", "text": "gal", "fontSize": 17, "align": "left", "baseline": "alphabetic", "color": "black"}, "encoding": {"x": {"datum": 6080.9, "type": "quantitative", "axis": null}, "y": {"datum": 98.2, "type": "quantitative", "axis": null}}},
  {"data": {"values": [{}]}, "mark": {"type": "text", "text": "= 1.0426,", "fontSize": 24, "align": "left", "baseline": "alphabetic", "color": "black"}, "encoding": {"x": {"datum": 6146.8, "type": "quantitative", "axis": null}, "y": {"datum": 99.7, "type": "quantitative", "axis": null}}},
  {"data": {"values": [{}]}, "mark": {"type": "text", "text": "Δ", "fontSize": 24, "align": "left", "baseline": "alphabetic", "color": "black"}, "encoding": {"x": {"datum": 6433, "type": "quantitative", "axis": null}, "y": {"datum": 99.7, "type": "quantitative", "axis": null}}},
  {"data": {"values": [{}]}, "mark": {"type": "text", "text": "v", "fontSize": 24, "fontStyle": "italic", "align": "left", "baseline": "alphabetic", "color": "black"}, "encoding": {"x": {"datum": 6477.8, "type": "quantitative", "axis": null}, "y": {"datum": 99.7, "type": "quantitative", "axis": null}}},
  {"data": {"values": [{}]}, "mark": {"type": "text", "text": "gal", "fontSize": 17, "align": "left", "baseline": "alphabetic", "color": "black"}, "encoding": {"x": {"datum": 6502.7, "type": "quantitative", "axis": null}, "y": {"datum": 98.2, "type": "quantitative", "axis": null}}},
  {"data": {"values": [{}]}, "mark": {"type": "text", "text": "= −250 km s", "fontSize": 24, "align": "left", "baseline": "alphabetic", "color": "black"}, "encoding": {"x": {"datum": 6572.4, "type": "quantitative", "axis": null}, "y": {"datum": 99.7, "type": "quantitative", "axis": null}}},
  {"data": {"values": [{}]}, "mark": {"type": "text", "text": "−1", "fontSize": 17, "align": "left", "baseline": "alphabetic", "color": "black"}, "encoding": {"x": {"datum": 6892, "type": "quantitative", "axis": null}, "y": {"datum": 106.7, "type": "quantitative", "axis": null}}},
  {"data": {"values": [{}]}, "mark": {"type": "text", "text": ",", "fontSize": 24, "align": "left", "baseline": "alphabetic", "color": "black"}, "encoding": {"x": {"datum": 6945, "type": "quantitative", "axis": null}, "y": {"datum": 99.7, "type": "quantitative", "axis": null}}},
  {"data": {"values": [{}]}, "mark": {"type": "text", "text": "d", "fontSize": 24, "fontStyle": "italic", "align": "left", "baseline": "alphabetic", "color": "black"}, "encoding": {"x": {"datum": 7045.2, "type": "quantitative", "axis": null}, "y": {"datum": 99.7, "type": "quantitative", "axis": null}}},
  {"data": {"values": [{}]}, "mark": {"type": "text", "text": "proj", "fontSize": 17, "align": "left", "baseline": "alphabetic", "color": "black"}, "encoding": {"x": {"datum": 7080.0, "type": "quantitative", "axis": null}, "y": {"datum": 98.2, "type": "quantitative", "axis": null}}},
  {"data": {"values": [{}]}, "mark": {"type": "text", "text": "= 169 kpc,", "fontSize": 24, "align": "left", "baseline": "alphabetic", "color": "black"}, "encoding": {"x": {"datum": 7162.1, "type": "quantitative", "axis": null}, "y": {"datum": 99.7, "type": "quantitative", "axis": null}}},
  {"data": {"values": [{}]}, "mark": {"type": "text", "text": "log", "fontSize": 24, "align": "left", "baseline": "alphabetic", "color": "black"}, "encoding": {"x": {"datum": 7480.7, "type": "quantitative", "axis": null}, "y": {"datum": 99.7, "type": "quantitative", "axis": null}}},
  {"data": {"values": [{}]}, "mark": {"type": "text", "text": "M", "fontSize": 24, "fontStyle": "italic", "align": "left", "baseline": "alphabetic", "color": "black"}, "encoding": {"x": {"datum": 7572.7, "type": "quantitative", "axis": null}, "y": {"datum": 99.7, "type": "quantitative", "axis": null}}},
  {"data": {"values": [{}]}, "mark": {"type": "text", "text": "star", "fontSize": 17, "align": "left", "baseline": "alphabetic", "color": "black"}, "encoding": {"x": {"datum": 7634.9, "type": "quantitative", "axis": null}, "y": {"datum": 98.2, "type": "quantitative", "axis": null}}},
  {"data": {"values": [{}]}, "mark": {"type": "text", "text": "/", "fontSize": 24, "align": "left", "baseline": "alphabetic", "color": "black"}, "encoding": {"x": {"datum": 7702.1, "type": "quantitative", "axis": null}, "y": {"datum": 99.7, "type": "quantitative", "axis": null}}},
  {"data": {"values": [{}]}, "mark": {"type": "text", "text": "M", "fontSize": 24, "fontStyle": "italic", "align": "left", "baseline": "alphabetic", "color": "black"}, "encoding": {"x": {"datum": 7734.5, "type": "quantitative", "axis": null}, "y": {"datum": 99.7, "type": "quantitative", "axis": null}}},
  {"data": {"values": [{}]}, "mark": {"type": "text", "text": "⊙", "fontSize": 17, "align": "left", "baseline": "alphabetic", "color": "black"}, "encoding": {"x": {"datum": 7801.7, "type": "quantitative", "axis": null}, "y": {"datum": 98.2, "type": "quantitative", "axis": null}}},
  {"data": {"values": [{}]}, "mark": {"type": "text", "text": "= 11.0", "fontSize": 24, "align": "left", "baseline": "alphabetic", "color": "black"}, "encoding": {"x": {"datum": 7841.5, "type": "quantitative", "axis": null}, "y": {"datum": 99.7, "type": "quantitative", "axis": null}}}
 ],
 "resolve": {"axis": {"x": "independent", "y": "independent"}}
},
{
 "width": 432, "height": 307,
 "layer": [
  {"data": {"name": "flux"},
   "transform": [{"filter": "datum.w >= 7895 && datum.w <= 8270"}],
   "mark": {"type": "line", "interpolate": "step", "color": "#1a1a1a", "strokeWidth": 1.5, "clip": true},
   "encoding": {
    "x": {"field": "w", "type": "quantitative", "scale": {"domain": [7908.4, 8257.4], "nice": false, "zero": false},
      "axis": {"orient": "bottom", "title": "Wavelength (Å)", "values": [7920,7940,7960,7980,8000,8020,8040,8060,8080,8100,8120,8140,8160,8180,8200,8220,8240], "format": "d", "labelExpr": "datum.value % 100 === 0 ? datum.label : ''", "tickSize": {"condition": {"test": "datum.value % 100 === 0", "value": -7}, "value": -3.5}, "labelPadding": 13, "titlePadding": 8}},
    "y": {"field": "f", "type": "quantitative", "scale": {"domain": [-10, 120], "nice": false, "zero": false},
      "axis": {"orient": "left", "labels": false, "title": null, "values": [0,10,20,30,40,50,60,70,80,90,100,110], "tickSize": {"condition": {"test": "datum.value % 50 === 0", "value": -7}, "value": -3.5}}}
   }},
  {"data": {"name": "err"},
   "transform": [{"filter": "datum.w >= 7895 && datum.w <= 8270"}],
   "mark": {"type": "line", "color": "#00eeee", "strokeWidth": 1.3, "clip": true},
   "encoding": {
    "x": {"field": "w", "type": "quantitative", "axis": {"orient": "top", "labels": false, "title": null, "values": [7920,7940,7960,7980,8000,8020,8040,8060,8080,8100,8120,8140,8160,8180,8200,8220,8240], "tickSize": {"condition": {"test": "datum.value % 100 === 0", "value": -7}, "value": -3.5}}},
    "y": {"field": "e", "type": "quantitative", "axis": {"orient": "right", "labels": false, "title": null, "values": [0,10,20,30,40,50,60,70,80,90,100,110], "tickSize": {"condition": {"test": "datum.value % 50 === 0", "value": -7}, "value": -3.5}}}
   }},
  {"data": {"name": "lines"},
   "mark": {"type": "rule", "color": "#ff0000", "strokeWidth": 2, "strokeDash": [7, 3]},
   "encoding": {"x": {"field": "w", "type": "quantitative", "axis": null}}}
 ],
 "resolve": {"axis": {"x": "independent", "y": "independent"}}
}
]
}
